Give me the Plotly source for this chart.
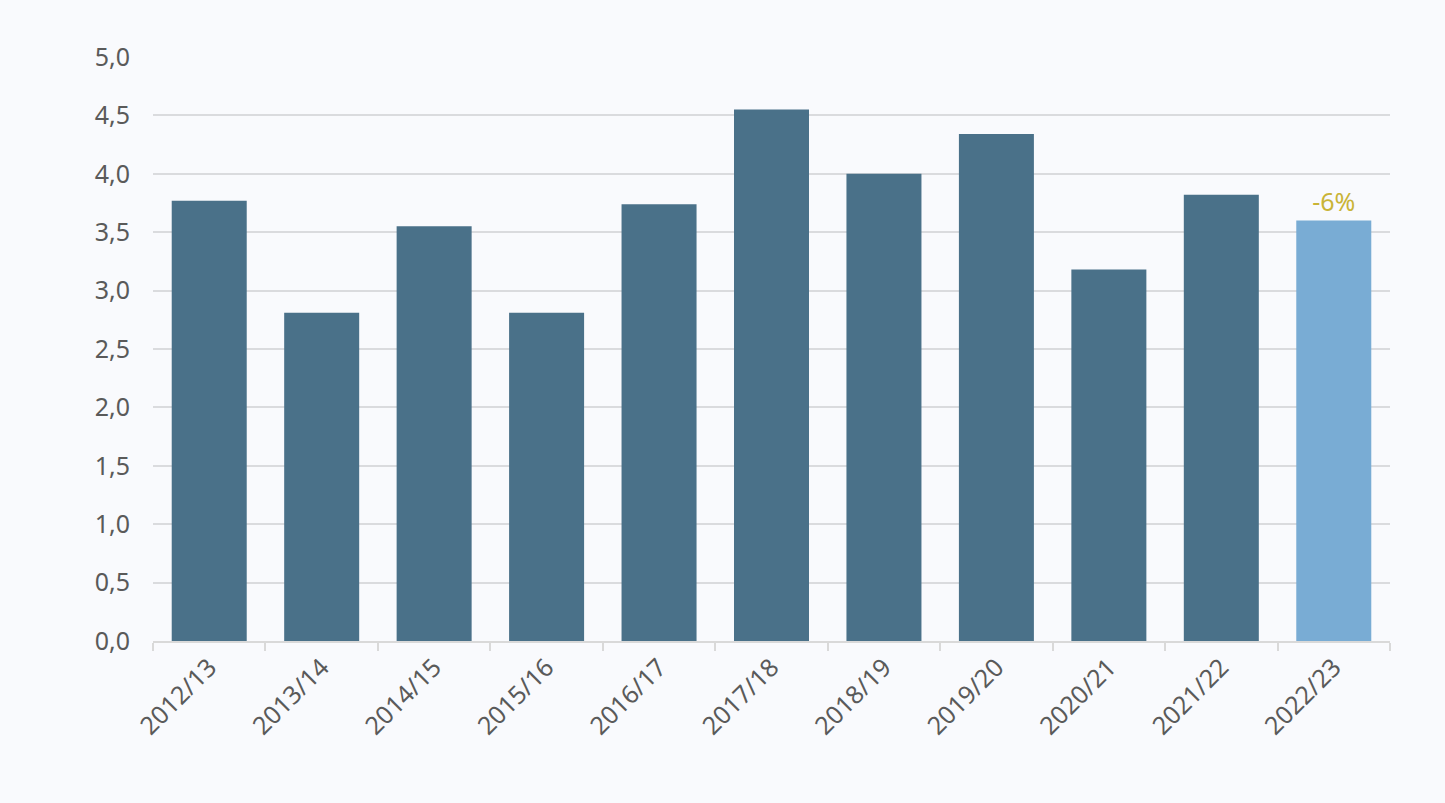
import plotly.graph_objects as go

# safras e valores (milhões de t)
safras = ["2012/13", "2013/14", "2014/15", "2015/16", "2016/17", "2017/18",
          "2018/19", "2019/20", "2020/21", "2021/22", "2022/23"]
valores = [3.77, 2.81, 3.55, 2.81, 3.74, 4.55, 4.00, 4.34, 3.18, 3.82, 3.60]
rotulos = ["", "", "", "", "", "", "", "", "", "", "-6%"]

fundo = "#f9fafd"
cores = ["#4a7189"] * (len(safras) - 1) + ["#79acd4"]

fig = go.Figure()
fig.add_trace(go.Bar(
    x=safras,
    y=valores,
    marker=dict(color=cores, line=dict(width=0)),
    text=rotulos,
    textposition="outside",
    outsidetextfont=dict(color="#c9b437", size=25),
    cliponaxis=False,
    hoverinfo="x+y",
))

# a página tem 8px de margem, então a figura é um pouco menor
fig.update_layout(
    width=1429,
    height=787,
    margin=dict(l=145, r=47, t=49, b=154),
    paper_bgcolor=fundo,
    plot_bgcolor=fundo,
    font=dict(family="Noto Sans", size=25, color="#5a5a5a"),
    separators=",.",
    bargap=0.333,
    showlegend=False,
)
fig.update_xaxes(
    tickangle=-45,
    showgrid=False,
    showline=True,
    linecolor="#d9d9d9",
    linewidth=1.5,
    ticks="outside",
    tickson="boundaries",
    ticklen=8,
    tickcolor="#d9d9d9",
    tickwidth=1.5,
)
fig.update_yaxes(
    range=[0, 5],
    dtick=0.5,
    tickformat=".1f",
    showgrid=True,
    gridcolor="#dadbde",
    gridwidth=1.5,
    zeroline=False,
    ticklabelstandoff=22,
)

fig.write_html(
    "out.html",
    post_script=f"document.body.style.background='{fundo}';",
)
